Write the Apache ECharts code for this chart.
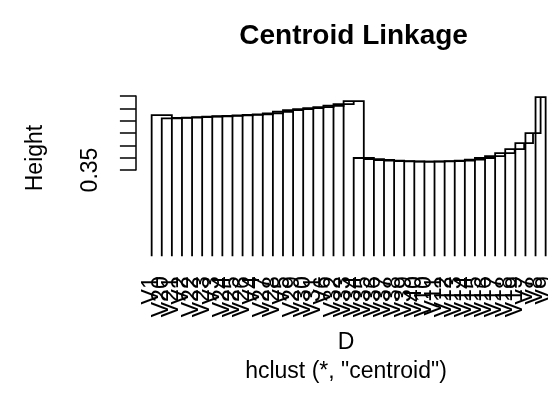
<!DOCTYPE html>
<html>
<head>
<meta charset="utf-8">
<script src="https://cdn.jsdelivr.net/npm/echarts@6/dist/echarts.min.js"></script>
<style>
html, body { margin: 0; padding: 0; background: #fff; }
#main { width: 548px; height: 394px; }
</style>
</head>
<body>
<div id="main"></div>
<script>
// leaves as drawn, left to right
var leafLabels = ['V1', 'V20', 'V21', 'V2', 'V22', 'V23', 'V3', 'V24', 'V25', 'V26',
                  'V4', 'V27', 'V28', 'V5', 'V29', 'V30', 'V31', 'V6', 'V32', 'V33',
                  'V34', 'V35', 'V36', 'V37', 'V38', 'V39', 'V40', 'V10', 'V11', 'V12',
                  'V13', 'V14', 'V15', 'V16', 'V17', 'V18', 'V19', 'V7', 'V8', 'V9'];
// height where each leaf joins the group on its right (last leaf has none)
var joinHeight = [0.5728, 0.5594, 0.5610, 0.5626, 0.5647, 0.5663, 0.5679, 0.5695, 0.5715, 0.5732,
                  0.5756, 0.5797, 0.5861, 0.5930, 0.5971, 0.6011, 0.6052, 0.6105, 0.6173, 0.6295,
                  0.3985, 0.3944, 0.3904, 0.3883, 0.3863, 0.3851, 0.3843, 0.3843, 0.3851, 0.3863,
                  0.3883, 0.3924, 0.3985, 0.4066, 0.4187, 0.4349, 0.4593, 0.4998, 0.6457];
var heightTicks = [0.35, 0.65, 0.05];

var FONT = '"Liberation Sans", Arial, Helvetica, sans-serif';
var n = leafLabels.length;

// build the dendrogram links: [xLeft, hLeft, xRight, hRight, hMerge]
var links = [];
var nodeX = n, nodeH = 0;
for (var k = n - 2; k >= 0; k--) {
    links.push([k + 1, 0, nodeX, nodeH, joinHeight[k]]);
    nodeX = (k + 1 + nodeX) / 2;
    nodeH = joinHeight[k];
}
var leaves = leafLabels.map(function (l, i) { return [i + 1, 0, l]; });

// R pads x by 4%; its plot region (425.5px wide) runs past the right edge of the picture
var xPad = 0.04 * (n - 1);
var xMin = 1 - xPad;
var xMax = xMin + (n - 1 + 2 * xPad) * (548 - 135.9) / 425.5;

var chart = echarts.init(document.getElementById('main'));

chart.setOption({
    animation: false,
    title: {
        text: 'Centroid Linkage',
        left: 348.6,
        top: 17,
        textAlign: 'center',
        textStyle: { fontFamily: FONT, fontSize: 28, fontWeight: 'bold', color: '#000' }
    },
    grid: [
        { left: 135.9, top: 96, right: 0, height: 160.3 },
        { left: 135.9, top: 96, right: 0, height: 74 }
    ],
    xAxis: [
        { gridIndex: 0, type: 'value', min: xMin, max: xMax, show: false },
        { gridIndex: 1, type: 'value', min: 0, max: 1, show: false }
    ],
    yAxis: [
        { gridIndex: 0, type: 'value', min: 0, max: 0.65, show: false },
        {
            gridIndex: 1, type: 'value',
            min: heightTicks[0], max: heightTicks[1], interval: heightTicks[2],
            axisLine: { show: true, lineStyle: { color: '#000', width: 1.5 } },
            axisTick: { show: true, length: 16, lineStyle: { color: '#000', width: 1.5 } },
            splitLine: { show: false },
            axisLabel: {
                rotate: 90,
                margin: 34,
                fontFamily: FONT, fontSize: 23, color: '#000',
                formatter: function (v) { return Math.abs(v - 0.35) < 1e-9 ? '0.35' : ''; }
            }
        }
    ],
    graphic: [
        { type: 'text', x: 36, y: 158, rotation: Math.PI / 2,
          style: { text: 'Height', font: '23px ' + FONT, fill: '#000', align: 'center', verticalAlign: 'middle' } },
        { type: 'text', x: 346, y: 343,
          style: { text: 'D', font: '23px ' + FONT, fill: '#000', align: 'center', verticalAlign: 'middle' } },
        { type: 'text', x: 346, y: 372,
          style: { text: 'hclust (*, "centroid")', font: '23px ' + FONT, fill: '#000', align: 'center', verticalAlign: 'middle' } }
    ],
    series: [
        {
            type: 'custom',
            xAxisIndex: 0, yAxisIndex: 0,
            data: links,
            renderItem: function (params, api) {
                var a = api.coord([api.value(0), api.value(1)]);
                var b = api.coord([api.value(0), api.value(4)]);
                var c = api.coord([api.value(2), api.value(4)]);
                var d = api.coord([api.value(2), api.value(3)]);
                return {
                    type: 'polyline',
                    shape: { points: [a, b, c, d] },
                    style: { stroke: '#000', lineWidth: 1.8, fill: null }
                };
            }
        },
        {
            type: 'custom',
            xAxisIndex: 0, yAxisIndex: 0,
            data: leaves,
            renderItem: function (params, api) {
                var p = api.coord([api.value(0), 0]);
                return {
                    type: 'text',
                    x: p[0], y: p[1] + 20,
                    rotation: Math.PI / 2,
                    style: {
                        text: leafLabels[params.dataIndex],
                        font: '23px ' + FONT, fill: '#000',
                        align: 'right', verticalAlign: 'middle'
                    }
                };
            }
        }
    ]
});
</script>
</body>
</html>
